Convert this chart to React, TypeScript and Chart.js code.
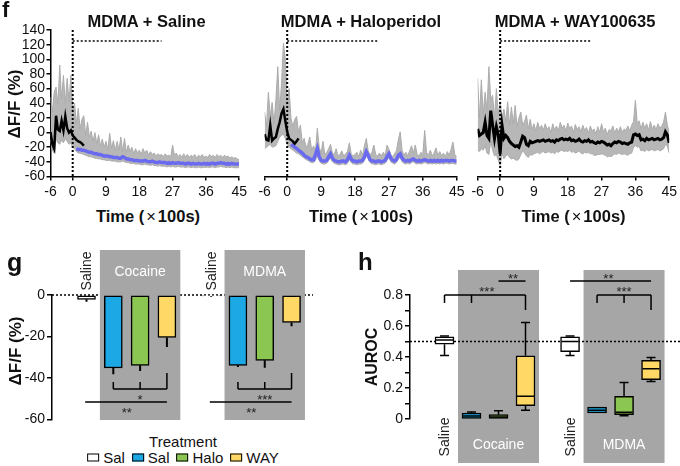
import React, { useEffect, useRef } from 'react';
import { Chart, registerables } from 'chart.js';

Chart.register(...registerables);

const FONT = '"Liberation Sans", Arial, Helvetica, sans-serif';
Chart.defaults.font.family = FONT;
Chart.defaults.color = '#111';

// ---------------- Panel f : photometry traces ----------------
const TIME = [
  -6, -5.5, -5, -4.5, -4, -3.5, -3, -2.5, -2, -1.5,
  -1, -0.5, 0, 0.5, 1, 1.5, 2, 2.5, 3, 3.5,
  4, 4.5, 5, 5.5, 6, 6.5, 7, 7.5, 8, 8.5,
  9, 9.5, 10, 10.5, 11, 11.5, 12, 12.5, 13, 13.5,
  14, 14.5, 15, 15.5, 16, 16.5, 17, 17.5, 18, 18.5,
  19, 19.5, 20, 20.5, 21, 21.5, 22, 22.5, 23, 23.5,
  24, 24.5, 25, 25.5, 26, 26.5, 27, 27.5, 28, 28.5,
  29, 29.5, 30, 30.5, 31, 31.5, 32, 32.5, 33, 33.5,
  34, 34.5, 35, 35.5, 36, 36.5, 37, 37.5, 38, 38.5,
  39, 39.5, 40, 40.5, 41, 41.5, 42, 42.5, 43, 43.5,
  44, 44.5, 45,
];
const F_XTICKS = [-6, 0, 9, 18, 27, 36, 45];
const F_YTICKS = [-60, -40, -20, 0, 20, 40, 60, 80, 100, 120, 140];
const F_TITLES = ['MDMA + Saline', 'MDMA + Haloperidol', 'MDMA + WAY100635'];
const INJECT_T = 0;
const BAR_LEVEL = 125;
const BAR_END = 24;

// MDMA + Saline
const SAL_UP = [
  48, 28, 55, 62, 38, 92, 45, 78, 40, 74,
  42, 78, 30, 40, 12, 33, 5, 18, 23, -4,
  14, -6, 2, -12, 0, -15, -3, -18, -9, -20,
  -12, -23, -1, -22, -11, -25, -12, -24, -6, -26,
  -8, -27, -17, -26, -20, -29, -22, -28, -24, -30,
  -22, -28, -24, -31, -26, -30, -28, -32, -29, -31,
  -30, -33, -29, -32, -31, -33, -17, -31, -28, -33,
  -30, -34, -29, -33, -30, -34, -31, -33, -30, -35,
  -31, -33, -30, -34, -32, -34, -30, -33, -31, -34,
  -30, -33, -31, -34, -31, -33, -32, -35, -33, -35,
  -34, -36, -37,
];
const SAL_LOW = [
  -10, -24, -28, -8, -14, -16, -10, -14, -8, -12,
  -16, -14, -20, -22, -26, -28, -28, -29, -30, -31,
  -32, -33, -33, -34, -35, -35, -36, -36, -37, -37,
  -38, -38, -38, -39, -39, -39, -40, -40, -40, -39,
  -40, -41, -41, -42, -42, -42, -43, -43, -43, -44,
  -44, -43, -44, -44, -45, -44, -45, -45, -46, -45,
  -46, -46, -46, -47, -46, -47, -46, -47, -47, -46,
  -47, -47, -47, -48, -47, -47, -48, -47, -48, -48,
  -47, -48, -48, -47, -48, -47, -48, -47, -47, -48,
  -47, -47, -46, -47, -47, -48, -47, -48, -47, -48,
  -48, -48, -48,
];
// mean before injection (t = -6 .. 3)
const SAL_BLACK = [1, -16, -22, 23, 4, 2, 16, 3, 22, 6, 0, 3, -4, -7, -10, -12, -13, -15, -18];
// mean after injection (t = 1 .. 45)
const SAL_BLUE = [
  -22, -23, -23, -24, -24, -25, -26, -27, -27, -28,
  -29, -29, -30, -30, -31, -32, -32, -32, -33, -33,
  -34, -34, -34, -35, -35, -33, -34, -36, -36, -37,
  -37, -38, -38, -38, -39, -39, -39, -38, -39, -40,
  -40, -39, -40, -41, -41, -40, -41, -41, -41, -42,
  -41, -42, -41, -42, -42, -41, -42, -42, -42, -43,
  -42, -42, -43, -42, -43, -43, -42, -43, -43, -42,
  -43, -42, -43, -42, -42, -43, -42, -42, -41, -42,
  -42, -43, -42, -43, -42, -43, -43, -43, -43,
];

// MDMA + Haloperidol
const HAL_UP = [
  28, 8, 55, 22, 41, 12, 45, 90, 30, 67,
  122, 101, 38, 60, 20, 8, 18, 22, 0, 10,
  -14, -8, -20, -16, -6, -24, -18, -26, 6, -20,
  -28, -12, -30, -27, -22, -16, -28, -30, -22, -32,
  -30, -25, -32, -29, -26, -14, -29, -32, -30, -27,
  -33, -24, -31, -18, -8, -25, -31, -27, -17, -30,
  -32, -28, -32, -27, -31, -17, -23, -30, -33, -29,
  -25, -10, 1, -24, -31, -27, -32, -25, -18, -28,
  -17, -30, -32, -27, -30, 3, -27, -31, -24, -32,
  -28, -21, -31, -26, -32, -28, -33, -26, -31, -23,
  -13, -30, -33,
];
const HAL_LOW = [
  -22, -20, -18, -16, -20, -19, -18, -12, -6, -4,
  -2, -8, -16, -20, -22, -24, -26, -28, -29, -31,
  -33, -35, -37, -38, -40, -41, -41, -38, -32, -38,
  -42, -43, -43, -42, -38, -35, -40, -42, -43, -44,
  -44, -43, -43, -44, -42, -37, -41, -43, -43, -44,
  -43, -43, -42, -38, -32, -36, -41, -43, -43, -44,
  -43, -43, -44, -43, -42, -38, -34, -40, -42, -43,
  -41, -36, -34, -40, -42, -43, -42, -43, -41, -40,
  -42, -43, -42, -43, -42, -41, -42, -43, -42, -43,
  -42, -43, -42, -43, -42, -43, -42, -42, -43, -42,
  -42, -43, -43,
];
const HAL_BLACK = [-2, -10, -11, 10, -11, -8, -6, 5, 14, 26, 32, 16, 1, -8, -10, -12, -15, -12, -8];
const HAL_BLUE = [
  -16, -18, -20, -22, -24, -26, -28, -31, -33, -34,
  -36, -37, -37, -30, -22, -33, -38, -39, -39, -38,
  -33, -29, -35, -38, -39, -40, -40, -39, -39, -40,
  -37, -31, -36, -39, -39, -40, -39, -39, -38, -33,
  -26, -31, -37, -39, -39, -40, -39, -39, -40, -39,
  -38, -33, -29, -35, -38, -39, -37, -31, -29, -35,
  -38, -39, -38, -39, -37, -36, -38, -39, -38, -39,
  -38, -37, -38, -39, -38, -39, -38, -39, -38, -39,
  -38, -39, -38, -38, -39, -38, -38, -39, -39,
];

// MDMA + WAY100635
const WAY_UP = [
  74, 20, 72, 25, 55, 30, 90, 45, 51, 20,
  60, 25, 42, 20, 32, 15, 42, 10, 35, 12,
  37, 8, 20, 28, 10, 15, 24, 5, 18, 4,
  12, 2, 14, 5, 10, 3, 12, 4, 8, 0,
  12, 3, 9, 2, 14, 6, 10, 2, 13, 5,
  9, 0, 11, 4, 8, 1, 10, 3, 7, -1,
  9, 2, 5, -2, 8, 0, 12, 1, 6, -3,
  4, 2, 9, -1, 6, 1, 8, 0, 5, 3,
  9, 2, 10, 15, 44, 12, 16, 5, 14, 6,
  12, 3, 15, 5, 10, 4, 12, 6, 9, 14,
  28, 10, 0,
];
const WAY_LOW = [
  -24, -26, -22, -24, -18, -28, -30, -12, -24, -32,
  -30, -38, -45, -28, -36, -32, -30, -34, -36, -35,
  -37, -38, -36, -30, -25, -28, -32, -34, -30, -31,
  -29, -28, -27, -29, -27, -26, -28, -27, -26, -28,
  -27, -29, -26, -27, -25, -24, -26, -25, -26, -24,
  -27, -26, -28, -27, -25, -28, -29, -27, -28, -27,
  -29, -29, -31, -31, -30, -30, -29, -30, -31, -33,
  -32, -33, -31, -29, -30, -28, -29, -30, -29, -30,
  -31, -29, -28, -20, -18, -20, -19, -25, -24, -26,
  -23, -25, -24, -23, -25, -24, -23, -25, -24, -22,
  -16, -19, -28,
];
const WAY_MEAN = [
  5, -4, -2, 0, 14, -4, -8, 30, 10, -8,
  8, -3, -29, 10, -8, -4, -7, -12, -15, -17,
  -19, -18, -20, -13, -5, -7, -16, -18, -12, -14,
  -13, -12, -11, -12, -11, -10, -12, -11, -10, -12,
  -11, -13, -10, -11, -9, -8, -10, -9, -10, -8,
  -11, -10, -12, -11, -9, -12, -13, -11, -12, -10,
  -13, -12, -14, -15, -13, -14, -12, -13, -15, -17,
  -16, -18, -15, -13, -14, -12, -13, -15, -14, -15,
  -16, -14, -13, -3, -2, -4, -3, -10, -9, -11,
  -8, -10, -9, -8, -10, -9, -8, -10, -9, -7,
  1, -3, -14,
];

// ---------------- Panels g and h ----------------
const GROUPS = ['Cocaine', 'MDMA'];
const CONDITIONS = ['Sal', 'Sal', 'Halo', 'WAY'];
const BASELINE_LABEL = 'Saline';
const LEGEND_TITLE = 'Treatment';

const G_MEAN = [-2.1, -35.2, -33.9, -20.5, -0.5, -33.9, -31.5, -13.2];
const G_SEM = [1.1, 3.0, 2.7, 4.5, 0.3, 0.8, 3.5, 1.8];
const G_YTICKS = [-60, -40, -20, 0];

const H_MIN = [0.41, 0.0, 0.0, 0.056, 0.41, 0.037, 0.021, 0.242];
const H_Q1 = [0.483, 0.003, 0.003, 0.086, 0.435, 0.039, 0.028, 0.253];
const H_MED = [0.51, 0.02, 0.013, 0.146, 0.5, 0.056, 0.043, 0.324];
const H_Q3 = [0.53, 0.039, 0.028, 0.408, 0.53, 0.077, 0.146, 0.378];
const H_MAX = [0.536, 0.045, 0.054, 0.622, 0.536, 0.077, 0.236, 0.397];
const H_YTICKS = [0, 0.1, 0.2, 0.3, 0.4, 0.5, 0.6, 0.7, 0.8];
const H_CHANCE = 0.5;

// ---------------- styles ----------------
const BAND = '#b7b7b7';
const BAND_EDGE = '#acacac';
const TRACE_BLUE = '#6a6af0';
const SHADE = '#a6a6a6';
const ITEM_COLORS = ['#ffffff', '#1ba8e4', '#8cc652', '#ffd865'];
const GROUP_OFFSET = 4.65;
const itemPos = (i: number) => Math.floor(i / 4) * GROUP_OFFSET + (i % 4);

const axisStyle = (tickLength: number) => ({
  border: { display: true, color: '#000', width: 1.5 },
  grid: { drawOnChartArea: false, drawTicks: true, tickLength, color: '#000', lineWidth: 1.5 },
});

// ---------------- plugins ----------------
const fMarks = {
  id: 'fMarks',
  afterDatasetsDraw(chart: any) {
    const { ctx, chartArea: a, scales } = chart;
    const x = scales.x, y = scales.y;
    const px = x.getPixelForValue(INJECT_T);
    ctx.save();
    ctx.strokeStyle = '#000';
    ctx.setLineDash([2, 2]);
    ctx.lineWidth = 2;
    ctx.beginPath();
    ctx.moveTo(px, a.top);
    ctx.lineTo(px, a.bottom);
    ctx.stroke();
    ctx.lineWidth = 1.5;
    const py = y.getPixelForValue(BAR_LEVEL);
    ctx.beginPath();
    ctx.moveTo(px, py);
    ctx.lineTo(x.getPixelForValue(BAR_END), py);
    ctx.stroke();
    ctx.restore();
  },
};

function stars(ctx: any, text: string, cx: number, cy: number) {
  ctx.font = `13px ${FONT}`;
  ctx.textAlign = 'center';
  ctx.textBaseline = 'alphabetic';
  ctx.fillStyle = '#222';
  ctx.fillText(text, cx, cy + 7.4);
}

function bracket(ctx: any, xs: number[], yLine: number, yEnds: number[]) {
  ctx.beginPath();
  ctx.moveTo(xs[0], yLine);
  ctx.lineTo(xs[xs.length - 1], yLine);
  xs.forEach((xx, k) => {
    ctx.moveTo(xx, yLine);
    ctx.lineTo(xx, yEnds[k]);
  });
  ctx.stroke();
}

function drawGroupShade(chart: any, top: number, bottom: number, labelY: number, salineY: number) {
  const { ctx, scales } = chart;
  const x = scales.x;
  GROUPS.forEach((name, g) => {
    const l = x.getPixelForValue(g * GROUP_OFFSET + 0.5);
    const r = x.getPixelForValue(g * GROUP_OFFSET + 3.5);
    ctx.fillStyle = SHADE;
    ctx.fillRect(l, top, r - l, bottom - top);
    ctx.font = `14px ${FONT}`;
    ctx.textAlign = 'center';
    ctx.textBaseline = 'middle';
    ctx.fillStyle = '#fff';
    ctx.fillText(name, (l + r) / 2, labelY);
    const sx = x.getPixelForValue(g * GROUP_OFFSET);
    ctx.save();
    ctx.translate(sx + 1, salineY);
    ctx.rotate(-Math.PI / 2);
    ctx.fillStyle = '#222';
    ctx.fillText(BASELINE_LABEL, 0, 0);
    ctx.restore();
  });
}

const gDeco = {
  id: 'gDeco',
  beforeDatasetsDraw(chart: any) {
    const { ctx, chartArea: a, scales } = chart;
    const y = scales.y;
    ctx.save();
    ctx.strokeStyle = '#000';
    ctx.lineWidth = 1.5;
    ctx.setLineDash([2, 2]);
    const y0 = y.getPixelForValue(0);
    ctx.beginPath();
    ctx.moveTo(a.left, y0);
    ctx.lineTo(a.right, y0);
    ctx.stroke();
    ctx.setLineDash([]);
    drawGroupShade(chart, a.top - 45, a.bottom + 0.5, a.top - 23, a.top - 24);
    ctx.restore();
  },
  afterDatasetsDraw(chart: any) {
    const { ctx, scales } = chart;
    const x = scales.x, y = scales.y;
    ctx.save();
    ctx.strokeStyle = '#000';
    ctx.lineWidth = 2;
    ctx.beginPath();
    G_MEAN.forEach((m, i) => {
      const cx = x.getPixelForValue(itemPos(i));
      ctx.moveTo(cx, y.getPixelForValue(m));
      ctx.lineTo(cx, y.getPixelForValue(m - G_SEM[i]));
    });
    ctx.stroke();
    ctx.lineWidth = 1.5;
    const bracketLabels = ['*', '***'];
    GROUPS.forEach((_, g) => {
      const o = g * GROUP_OFFSET;
      const xs = [1, 2, 3].map((k) => x.getPixelForValue(o + k));
      bracket(ctx, xs, y.getPixelForValue(-45.3), [-41.9, -41.9, -37.6].map((v) => y.getPixelForValue(v)));
      stars(ctx, bracketLabels[g], xs[1], y.getPixelForValue(-49.2));
      const yl = y.getPixelForValue(-51.6);
      ctx.beginPath();
      ctx.moveTo(x.getPixelForValue(o - 0.05), yl);
      ctx.lineTo(x.getPixelForValue(o + 3), yl);
      ctx.stroke();
      stars(ctx, '**', x.getPixelForValue(o + 1.5), y.getPixelForValue(-55.4));
    });
    ctx.restore();
  },
};

const hDeco = {
  id: 'hDeco',
  beforeDatasetsDraw(chart: any) {
    const { ctx, chartArea: a, scales } = chart;
    const y = scales.y;
    ctx.save();
    drawGroupShade(chart, a.top - 25, a.bottom + 44, a.bottom + 26, a.bottom + 18);
    ctx.strokeStyle = '#000';
    ctx.lineWidth = 1.5;
    ctx.setLineDash([2, 2]);
    const yc = y.getPixelForValue(H_CHANCE);
    ctx.beginPath();
    ctx.moveTo(a.left, yc);
    ctx.lineTo(chart.width, yc);
    ctx.stroke();
    ctx.restore();
  },
  afterDatasetsDraw(chart: any) {
    const { ctx, scales } = chart;
    const x = scales.x, y = scales.y;
    ctx.save();
    ctx.strokeStyle = '#000';
    ctx.lineWidth = 1.5;
    ctx.beginPath();
    H_MED.forEach((m, i) => {
      const cx = x.getPixelForValue(itemPos(i));
      const ym = y.getPixelForValue(m);
      ctx.moveTo(cx - 8.5, ym);
      ctx.lineTo(cx + 8.5, ym);
      const yq3 = y.getPixelForValue(H_Q3[i]);
      const ymax = y.getPixelForValue(H_MAX[i]);
      if (ymax < yq3 - 0.5) {
        ctx.moveTo(cx, yq3);
        ctx.lineTo(cx, ymax);
        ctx.moveTo(cx - 4.5, ymax);
        ctx.lineTo(cx + 4.5, ymax);
      }
      const yq1 = y.getPixelForValue(H_Q1[i]);
      const ymin = y.getPixelForValue(H_MIN[i]);
      if (ymin > yq1 + 0.5) {
        ctx.moveTo(cx, yq1);
        ctx.lineTo(cx, ymin);
        ctx.moveTo(cx - 4.5, ymin);
        ctx.lineTo(cx + 4.5, ymin);
      }
    });
    ctx.stroke();
    const px = (v: number) => x.getPixelForValue(v);
    const py = (v: number) => y.getPixelForValue(v);
    // cocaine group
    bracket(ctx, [px(0), px(1), px(3)], py(0.8), [py(0.748), py(0.748), py(0.703)]);
    stars(ctx, '***', px(1.57), py(0.84));
    bracket(ctx, [px(2), px(3)], py(0.89), [py(0.89), py(0.89)]);
    stars(ctx, '**', px(2.54), py(0.923));
    // MDMA group
    const o = GROUP_OFFSET;
    bracket(ctx, [px(o), px(o + 3)], py(0.89), [py(0.89), py(0.89)]);
    stars(ctx, '**', px(o + 1.42), py(0.923));
    bracket(ctx, [px(o + 1), px(o + 2), px(o + 3)], py(0.8), [py(0.748), py(0.748), py(0.703)]);
    stars(ctx, '***', px(o + 2), py(0.84));
    ctx.restore();
  },
};

// ---------------- configs ----------------
const tickFont = { size: 14 };

function traceConfig(up: number[], low: number[], black: number[], blue: number[] | null, showY: boolean, padLeft: number, padRight: number, yWidth: number) {
  const series = (vals: number[], fromEnd = false) => {
    const off = fromEnd ? TIME.length - vals.length : 0;
    return vals.map((v, i) => ({ x: TIME[off + i], y: v }));
  };
  const datasets: any[] = [
    { data: series(up), borderColor: BAND_EDGE, borderWidth: 1, backgroundColor: BAND, fill: '+1', pointRadius: 0, order: 3 },
    { data: series(low), borderColor: BAND_EDGE, borderWidth: 1, fill: false, pointRadius: 0, order: 2 },
  ];
  if (blue) datasets.push({ data: series(blue, true), borderColor: TRACE_BLUE, borderWidth: 3.5, fill: false, pointRadius: 0, order: 1 });
  datasets.push({ data: series(black), borderColor: '#000', borderWidth: blue ? 2.5 : 3, fill: false, pointRadius: 0, order: 0 });
  return {
    type: 'line',
    data: { datasets },
    options: {
      animation: false,
      responsive: false,
      events: [],
      plugins: { legend: { display: false }, tooltip: { enabled: false } },
      layout: { padding: { left: padLeft, right: padRight, top: 30, bottom: 0 } },
      scales: {
        x: {
          type: 'linear',
          min: -6,
          max: 45,
          afterBuildTicks: (s: any) => { s.ticks = F_XTICKS.map((value) => ({ value })); },
          afterFit: (s: any) => { s.height = 28.5; },
          ...axisStyle(4),
          ticks: { font: tickFont, color: '#111', padding: 3, maxRotation: 0, autoSkip: false },
        },
        y: {
          type: 'linear',
          display: showY,
          min: -60,
          max: 140,
          afterBuildTicks: (s: any) => { s.ticks = F_YTICKS.map((value) => ({ value })); },
          afterFit: (s: any) => { s.width = yWidth; },
          ...axisStyle(4),
          ticks: { font: tickFont, color: '#111', padding: 1.5, autoSkip: false },
        },
      },
    },
    plugins: [fMarks],
  };
}

function gConfig() {
  return {
    type: 'bar',
    data: {
      datasets: [{
        data: G_MEAN.map((v, i) => ({ x: itemPos(i), y: v })),
        backgroundColor: G_MEAN.map((_, i) => ITEM_COLORS[i % 4]),
        borderColor: '#000',
        borderWidth: 1.5,
        borderSkipped: false,
        barThickness: 18,
      }],
    },
    options: {
      animation: false,
      responsive: false,
      events: [],
      plugins: { legend: { display: false }, tooltip: { enabled: false } },
      layout: { padding: { left: 0, top: 65, right: 17, bottom: 10.5 } },
      scales: {
        x: { type: 'linear', min: -1.287, max: 8.45, display: false, offset: false, grid: { offset: false } },
        y: {
          type: 'linear',
          min: -60,
          max: 0,
          afterBuildTicks: (s: any) => { s.ticks = G_YTICKS.map((value) => ({ value })); },
          afterFit: (s: any) => { s.width = 52; },
          ...axisStyle(5),
          ticks: { font: tickFont, color: '#111', padding: 2, autoSkip: false },
        },
      },
    },
    plugins: [gDeco],
  };
}

function hConfig() {
  return {
    type: 'bar',
    data: {
      datasets: [{
        data: H_Q1.map((q1, i) => ({ x: itemPos(i), y: [q1, H_Q3[i]] })),
        backgroundColor: H_Q1.map((_, i) => ITEM_COLORS[i % 4]),
        borderColor: '#000',
        borderWidth: 1.5,
        borderSkipped: false,
        barThickness: 19,
      }],
    },
    options: {
      animation: false,
      responsive: false,
      events: [],
      plugins: { legend: { display: false }, tooltip: { enabled: false } },
      layout: { padding: { left: 0, top: 55, right: 2, bottom: 47 } },
      scales: {
        x: { type: 'linear', min: -1.278, max: 8.648, display: false, offset: false, grid: { offset: false } },
        y: {
          type: 'linear',
          min: 0,
          max: 0.8,
          afterBuildTicks: (s: any) => { s.ticks = H_YTICKS.map((value) => ({ value })); },
          afterFit: (s: any) => { s.width = 70; },
          ...axisStyle(5),
          ticks: {
            font: tickFont,
            color: '#111',
            padding: 2,
            autoSkip: false,
            callback: (v: number) => {
              const k = Math.round(v * 10);
              if (k % 2 !== 0) return '';
              return k === 0 ? '0' : (k / 10).toFixed(1);
            },
          },
        },
      },
    },
    plugins: [hDeco],
  };
}

// ---------------- layout helpers ----------------
type LabelProps = { x: number; y: number; size: number; bold?: boolean; rotate?: boolean; left?: boolean; color?: string; children: React.ReactNode };
function Label({ x, y, size, bold, rotate, left, color, children }: LabelProps) {
  const tx = left ? '0' : '-50%';
  return (
    <div
      style={{
        position: 'absolute',
        left: x,
        top: y,
        transform: `translate(${tx}, -50%)${rotate ? ' rotate(-90deg)' : ''}`,
        fontSize: size,
        fontWeight: bold ? 700 : 400,
        lineHeight: 1,
        whiteSpace: 'nowrap',
        color: color || '#111',
        fontFamily: FONT,
      }}
    >
      {children}
    </div>
  );
}

const TimeTitle = () => (
  <>Time (<span style={{ fontWeight: 400, margin: '0 2px' }}>×</span>100s)</>
);

export default function App() {
  const f1 = useRef<HTMLCanvasElement>(null);
  const f2 = useRef<HTMLCanvasElement>(null);
  const f3 = useRef<HTMLCanvasElement>(null);
  const g = useRef<HTMLCanvasElement>(null);
  const h = useRef<HTMLCanvasElement>(null);

  useEffect(() => {
    const charts = [
      new Chart(f1.current as any, traceConfig(SAL_UP, SAL_LOW, SAL_BLACK, SAL_BLUE, true, 0, 8.3, 50.5) as any),
      new Chart(f2.current as any, traceConfig(HAL_UP, HAL_LOW, HAL_BLACK, HAL_BLUE, false, 24.6, 18.3, 0) as any),
      new Chart(f3.current as any, traceConfig(WAY_UP, WAY_LOW, WAY_MEAN, null, false, 22.6, 10.3, 0) as any),
      new Chart(g.current as any, gConfig() as any),
      new Chart(h.current as any, hConfig() as any),
    ];
    return () => charts.forEach((c) => c.destroy());
  }, []);

  const cv = (left: number, top: number): React.CSSProperties => ({ position: 'absolute', left, top });

  return (
    <div style={{ position: 'absolute', left: 0, top: 0, width: 680, height: 466, background: '#fff', overflow: 'hidden', fontFamily: FONT }}>
      <canvas ref={f1} width={250} height={205} style={cv(0, 0)} />
      <canvas ref={f2} width={235} height={205} style={cv(240, 0)} />
      <canvas ref={f3} width={225} height={205} style={cv(455, 0)} />
      <canvas ref={g} width={330} height={200} style={cv(0, 230)} />
      <canvas ref={h} width={340} height={226} style={cv(340, 240)} />

      <Label x={2} y={10} size={22} bold left>f</Label>
      <Label x={146.5} y={20.7} size={16.5} bold>{F_TITLES[0]}</Label>
      <Label x={361} y={20.7} size={16.5} bold>{F_TITLES[1]}</Label>
      <Label x={575} y={20.7} size={16.5} bold>{F_TITLES[2]}</Label>
      <Label x={14} y={104} size={17} bold rotate>ΔF/F (%)</Label>
      <Label x={148} y={215.7} size={16.5} bold><TimeTitle /></Label>
      <Label x={361} y={215.7} size={16.5} bold><TimeTitle /></Label>
      <Label x={573.5} y={215.7} size={16.5} bold><TimeTitle /></Label>

      <Label x={7} y={262} size={25} bold left>g</Label>
      <Label x={15} y={351} size={17} bold rotate>ΔF/F (%)</Label>
      <Label x={183} y={441} size={15}>{LEGEND_TITLE}</Label>
      <div
        style={{
          position: 'absolute', left: 183, top: 457, transform: 'translate(-50%, -50%)',
          display: 'flex', alignItems: 'center', gap: 7, fontSize: 15, lineHeight: 1, whiteSpace: 'nowrap', color: '#111',
        }}
      >
        {CONDITIONS.map((name, i) => (
          <span key={i} style={{ display: 'flex', alignItems: 'center', gap: 4 }}>
            <span style={{ display: 'inline-block', width: 12, height: 8, border: '1.5px solid #000', background: ITEM_COLORS[i], boxSizing: 'border-box' }} />
            {name}
          </span>
        ))}
      </div>

      <Label x={358} y={262} size={24} bold left>h</Label>
      <Label x={372} y={357} size={16} bold rotate>AUROC</Label>
    </div>
  );
}
